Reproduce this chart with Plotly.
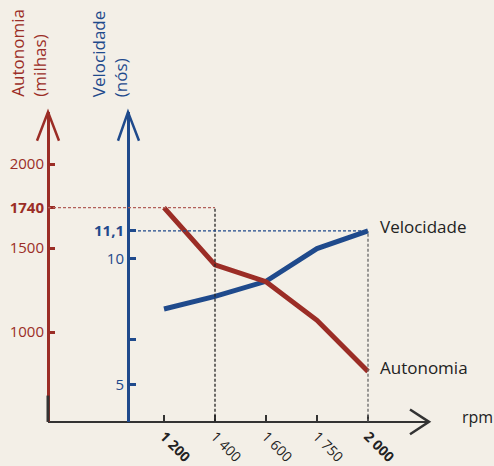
import plotly.graph_objects as go

# ---- data ----
rpm = ["1200", "1400", "1600", "1750", "2000"]
rpm_labels = ["<b>1 200</b>", "1 400", "1 600", "1 750", "<b>2 000</b>"]
autonomia = [1740, 1400, 1300, 1070, 765]          # milhas
velocidade = [8.0, 8.5, 9.1, 10.4, 11.1]           # nós
aut_ticks = [1000, 1500, 1740, 2000]
aut_ticktext = ["1000", "1500", "<b>1740</b>", "2000"]
vel_ticks = [5, 6.8, 10, 11.1]
vel_ticktext = ["5", "", "10", "<b>11,1</b>"]

# ---- style / layout constants ----
W, H = 494, 466
BG = "#f3efe7"
RED = "#9b2d26"
BLUE = "#1f4a8c"
DARK = "#333333"
FONT = "Open Sans"

def px(x):
    return x / W

def py(y):
    return 1 - y / H

X_LEFT, X_RIGHT = 48, 429          # x-axis line extent (px)
X_TICK0, X_STEP = 164, 51          # first category px, px per category
Y_AXIS_PX, Y_TOP_PX = 425.5, 113   # x-axis level, top of y axes (px)
RED_AX_PX, BLUE_AX_PX = 48, 128

x_range = [(X_LEFT - X_TICK0) / X_STEP, (X_RIGHT - X_TICK0) / X_STEP]
blue_ax_cat = (BLUE_AX_PX - X_TICK0) / X_STEP

aut_range = [465.7, 2309.3]
vel_range = [3.52, 15.82]
dom = [py(Y_AXIS_PX), py(Y_TOP_PX)]

fig = go.Figure()
fig.add_trace(go.Scatter(x=rpm, y=velocidade, mode="lines", yaxis="y",
                         line=dict(color=BLUE, width=5), hoverinfo="skip"))
fig.add_trace(go.Scatter(x=rpm, y=autonomia, mode="lines", yaxis="y2",
                         line=dict(color=RED, width=5), hoverinfo="skip"))

shapes = []
# dashed guides
shapes.append(dict(type="line", xref="x", yref="y2", x0=x_range[0], x1=1,
                   y0=autonomia[0], y1=autonomia[0],
                   line=dict(color="#b2605a", width=1.3, dash="3px,2px")))
shapes.append(dict(type="line", xref="x", yref="y2", x0=1, x1=1,
                   y0=aut_range[0], y1=autonomia[0],
                   line=dict(color="#222222", width=1.3, dash="3px,2px")))
shapes.append(dict(type="line", xref="x", yref="y", x0=blue_ax_cat, x1=4,
                   y0=velocidade[-1], y1=velocidade[-1],
                   line=dict(color=BLUE, width=1.3, dash="3px,2px")))
shapes.append(dict(type="line", xref="x", yref="y", x0=4, x1=4,
                   y0=vel_range[0], y1=velocidade[-1],
                   line=dict(color="#666666", width=1.3, dash="3px,2px")))
# dark lower segment of the red axis
shapes.append(dict(type="line", xref="paper", yref="paper",
                   x0=px(RED_AX_PX), x1=px(RED_AX_PX), y0=py(Y_AXIS_PX), y1=py(399),
                   line=dict(color=DARK, width=3), layer="above"))
# arrowheads
def chevron(tx, ty, ax, ay, bx, by, color):
    return dict(type="path", xref="paper", yref="paper",
                path=f"M {px(ax)} {py(ay)} L {px(tx)} {py(ty)} L {px(bx)} {py(by)}",
                line=dict(color=color, width=2.5), layer="above")
shapes.append(chevron(RED_AX_PX, Y_TOP_PX, 37, 142, 59, 142, RED))
shapes.append(chevron(BLUE_AX_PX, Y_TOP_PX, 118, 142, 139, 142, BLUE))
shapes.append(chevron(X_RIGHT, Y_AXIS_PX, 410, 413, 410, 438, DARK))

annotations = [
    dict(text="Autonomia<br>(milhas)", x=px(28.5), y=py(100), xref="paper", yref="paper",
         xanchor="center", yanchor="bottom", textangle=-90, align="left",
         showarrow=False, font=dict(family=FONT, size=17, color=RED)),
    dict(text="Velocidade<br>(nós)", x=px(109), y=py(100), xref="paper", yref="paper",
         xanchor="center", yanchor="bottom", textangle=-90, align="left",
         showarrow=False, font=dict(family=FONT, size=17, color=BLUE)),
    dict(text="Velocidade", x=px(378), y=py(228), xref="paper", yref="paper",
         xanchor="left", yanchor="middle", showarrow=False,
         font=dict(family=FONT, size=17, color="#222222")),
    dict(text="Autonomia", x=px(378), y=py(371), xref="paper", yref="paper",
         xanchor="left", yanchor="middle", showarrow=False,
         font=dict(family=FONT, size=17, color="#222222")),
    dict(text="rpm", x=px(460), y=py(421), xref="paper", yref="paper",
         xanchor="left", yanchor="middle", showarrow=False,
         font=dict(family=FONT, size=16, color="#222222")),
]

fig.update_layout(
    width=W, height=H, margin=dict(l=0, r=0, t=0, b=0),
    paper_bgcolor=BG, plot_bgcolor="rgba(0,0,0,0)",
    showlegend=False, shapes=shapes, annotations=annotations,
    font=dict(family=FONT),
    xaxis=dict(type="category", categoryorder="array", categoryarray=rpm,
               domain=[px(X_LEFT), px(X_RIGHT)], range=x_range,
               anchor="free", position=py(Y_AXIS_PX),
               showline=True, linecolor=DARK, linewidth=2,
               ticks="inside", ticklen=6, tickwidth=2, tickcolor=DARK,
               tickvals=rpm, ticktext=rpm_labels, tickangle=45,
               tickfont=dict(family=FONT, size=14, color="#222222"),
               showgrid=False, zeroline=False, fixedrange=True),
    yaxis=dict(domain=dom, range=vel_range, anchor="free", position=px(BLUE_AX_PX),
               side="left", showline=True, linecolor=BLUE, linewidth=3,
               ticks="inside", ticklen=6, tickwidth=3, tickcolor=BLUE,
               tickvals=vel_ticks, ticktext=vel_ticktext,
               tickfont=dict(family=FONT, size=15, color=BLUE),
               showgrid=False, zeroline=False, fixedrange=True),
    yaxis2=dict(domain=dom, range=aut_range, anchor="free", position=px(RED_AX_PX),
                overlaying="y", side="left", showline=True, linecolor=RED, linewidth=3,
                ticks="inside", ticklen=5, tickwidth=3, tickcolor=RED,
                tickvals=aut_ticks, ticktext=aut_ticktext,
                tickfont=dict(family=FONT, size=15, color=RED),
                showgrid=False, zeroline=False, fixedrange=True),
)

fig.write_html(
    "out.html",
    config={"displayModeBar": False},
    post_script="document.body.style.margin='0';document.body.style.overflow='hidden';"
                "document.body.style.background='" + BG + "';",
)
